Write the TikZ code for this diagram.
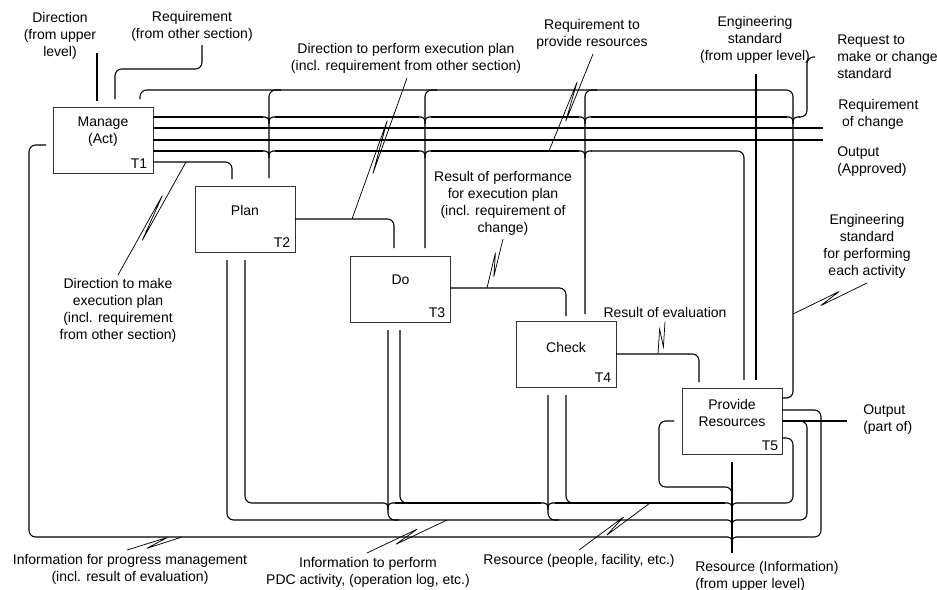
\documentclass[tikz,border=0pt]{standalone}
\usepackage{fontspec}
\setmainfont{Liberation Sans}
\usetikzlibrary{calc}

\tikzset{
  lbl/.style={inner sep=0pt, align=center, font=\fontsize{10.5pt}{12.75pt}\selectfont},
  lbll/.style={lbl, align=left, anchor=west},
  pbox/.style={draw=black!80, line width=0.7pt, minimum width=75pt, minimum height=49.5pt, inner sep=0pt, outer sep=0pt},
  conn/.style={line width=0.82pt, rounded corners=5pt},
  bumpline/.style={line width=0.82pt, rounded corners=3pt},
  squig/.style={line width=0.55pt},
}
% junction where a vertical flow line leaves a horizontal one
\newcommand\hbump[2]{\draw[bumpline] (#1-7,#2) -- (#1,#2) -- (#1,#2+7) (#1,#2+7) -- (#1,#2) -- (#1+7,#2);}
% label leader with a lightning break: from, to, far fraction, near fraction, offset
\newcommand\squiggle[5]{%
  \draw[squig] (#1) -- ($(#1)!#3!(#2)!#5!90:(#2)$) -- ($(#1)!#4!(#2)!-#5!90:(#2)$) -- (#2);}

\begin{document}
\begin{tikzpicture}[x=0.75pt,y=-0.75pt]
\fill[white] (0,0) rectangle (937,589);
\useasboundingbox (0,0) rectangle (937,589);

% activity boxes
\node[pbox] (t1) at (103,140) {};
\node[pbox] (t2) at (245,219) {};
\node[pbox] (t3) at (400.5,289) {};
\node[pbox] (t4) at (566,354.5) {};
\node[pbox] (t5) at (732,421) {};

\node[lbl] (t1name) at (103,131.5) {Manage\\(Act)};
\node[lbl] (t2name) at (245,210) {Plan};
\node[lbl] (t3name) at (400.5,280) {Do};
\node[lbl] (t4name) at (566,347) {Check};
\node[lbl] (t5name) at (732,412.5) {Provide\\Resources};
\node[lbl] (t1id) at (139,164) {T1};
\node[lbl] (t2id) at (282,243) {T2};
\node[lbl] (t3id) at (437,313) {T3};
\node[lbl] (t4id) at (603,378) {T4};
\node[lbl] (t5id) at (770,446) {T5};

% inputs to T1 from above
\draw[conn] (97,53) -- (97,101);
\draw[conn] (202,45) -- (202,69) -- (115,69) -- (115,99);

% engineering standard loop from T5 over the top
\draw[conn] (t5.east |- 0,398) -- (793,398) -- (793,90) -- (140,90) -- (140,99);
\draw[conn] (269,178) -- (269,90) -- (281,90);
\draw[conn] (425,248) -- (425,90) -- (437,90);
\draw[conn] (585,314) -- (585,90) -- (597,90);

% outputs of T1
\draw[conn] (t1.east |- 0,117) -- (263,117);
\draw[conn] (275,117) -- (419,117);
\draw[conn] (431,117) -- (579,117);
\draw[conn] (591,117) -- (787,117);
\draw[conn] (799,117) -- (807,117) -- (807,57) -- (815,57);
\hbump{269}{117}\hbump{425}{117}\hbump{585}{117}\hbump{793}{117}
\draw[conn] (t1.east |- 0,128) -- (823,128);
\draw[conn] (t1.east |- 0,140) -- (823,140);
\draw[conn] (t1.east |- 0,151) -- (263,151);
\draw[conn] (275,151) -- (419,151);
\draw[conn] (431,151) -- (579,151);
\draw[conn] (591,151) -- (744,151) -- (744,380);
\hbump{269}{151}\hbump{425}{151}\hbump{585}{151}
\draw[conn] (t1.east |- 0,162) -- (232,162) -- (232,179);

% chain Plan -> Do -> Check -> Provide Resources
\draw[conn] (t2.east |- 0,219) -- (394,219) -- (394,248);
\draw[conn] (t3.east |- 0,288) -- (566,288) -- (566,316);
\draw[conn] (t4.east |- 0,354) -- (699,354) -- (699,382);
\draw[conn] (756,74) -- (756,380);

% outputs of T5 along the bottom
\draw[conn] (t5.east |- 0,410) -- (821,410) -- (821,537) -- (739,537);
\draw[conn] (725,537) -- (29,537) -- (29,145) -- (46,145);
\hbump{732}{537}
\draw[conn] (t5.east |- 0,421) -- (847,421);
\draw[conn] (790,421) -- (807,421) -- (807,520) -- (739,520);
\draw[conn] (725,520) -- (227,520) -- (227,260);
\hbump{732}{520}
\draw[conn] (t5.east |- 0,438) -- (793,438) -- (793,503) -- (739,503);
\draw[conn] (725,503) -- (555,503);
\draw[conn] (541,503) -- (395,503);
\draw[conn] (381,503) -- (245,503) -- (245,260);
\hbump{732}{503}\hbump{548}{503}\hbump{388}{503}
\draw[conn] (400,330) -- (400,503) -- (411,503);
\draw[conn] (566,395) -- (566,503) -- (577,503);
\draw[conn] (388,330) -- (388,520) -- (399,520);
\draw[conn] (548,395) -- (548,520) -- (559,520);

% resource information from upper level into T5
\draw[conn] (732,553) -- (732,462);
\draw[conn] (674,421) -- (659,421) -- (659,487) -- (732,487) -- (732,497);

% labels
\node[lbl] (lDirUp) at (60,36) {Direction\\(from upper\\level)};
\node[lbl] (lReqOther) at (192,26) {Requirement\\(from other section)};
\node[lbl] (lDirPerf) at (406,58) {Direction to perform execution plan\\(incl. requirement from other section)};
\node[lbl] (lReqRes) at (592,34) {Requirement to\\provide resources};
\node[lbl] (lEngUp) at (755,40) {Engineering\\standard\\(from upper level)};
\node[lbll] (lReqStd) at (837,57) {Request to\\make or change\\standard};
\node[lbll] (lReqChg) at (838,114) {Requirement\\\ of change};
\node[lbll] (lOutAppr) at (837,162) {Output\\(Approved)};
\node[lbl] (lEngEach) at (867,246) {Engineering\\standard\\for performing\\each activity};
\node[lbl] (lResEval) at (665,312) {Result of evaluation};
\node[lbl] (lResPerf) at (503,203) {Result of performance\\for execution plan\\(incl. requirement of\\change)};
\node[lbl] (lDirMake) at (118,310) {Direction to make\\execution plan\\(incl. requirement\\from other section)};
\node[lbll] (lOutPart) at (863,420) {Output\\(part of)};
\node[lbl] (lInfoProg) at (130,569) {Information for progress management\\(incl. result of evaluation)};
\node[lbl] (lInfoPDC) at (368,572) {Information to perform\\PDC activity, (operation log, etc.)};
\node[lbl] (lResPeople) at (579,561) {Resource (people, facility, etc.)};
\node[lbll] (lResInfo) at (695,576) {Resource (Information)\\(from upper level)};

% label leaders
\coordinate (a1) at (407,78);  \coordinate (b1) at (352,219);
\coordinate (a2) at (593,54);  \coordinate (b2) at (549,151);
\coordinate (a3) at (503,239); \coordinate (b3) at (487,288);
\coordinate (a4) at (665,322); \coordinate (b4) at (658,354);
\coordinate (a5) at (867,283); \coordinate (b5) at (793,314);
\coordinate (a6) at (118,275); \coordinate (b6) at (186,162);
\coordinate (a7) at (127,550); \coordinate (b7) at (182,537);
\coordinate (a8) at (367,553); \coordinate (b8) at (447,520);
\coordinate (a9) at (579,550); \coordinate (b9) at (650,503);
\squiggle{a1}{b1}{0.67}{0.31}{2.2pt}
\squiggle{a2}{b2}{0.68}{0.30}{2.2pt}
\squiggle{a3}{b3}{0.75}{0.30}{2.2pt}
\squiggle{a4}{b4}{0.75}{0.25}{2.8pt}
\squiggle{a5}{b5}{0.64}{0.36}{2.2pt}
\squiggle{a6}{b6}{0.69}{0.32}{2.2pt}
\squiggle{a7}{b7}{0.75}{0.35}{2.2pt}
\squiggle{a8}{b8}{0.64}{0.35}{2.2pt}
\squiggle{a9}{b9}{0.65}{0.37}{2.2pt}
\end{tikzpicture}
\end{document}
